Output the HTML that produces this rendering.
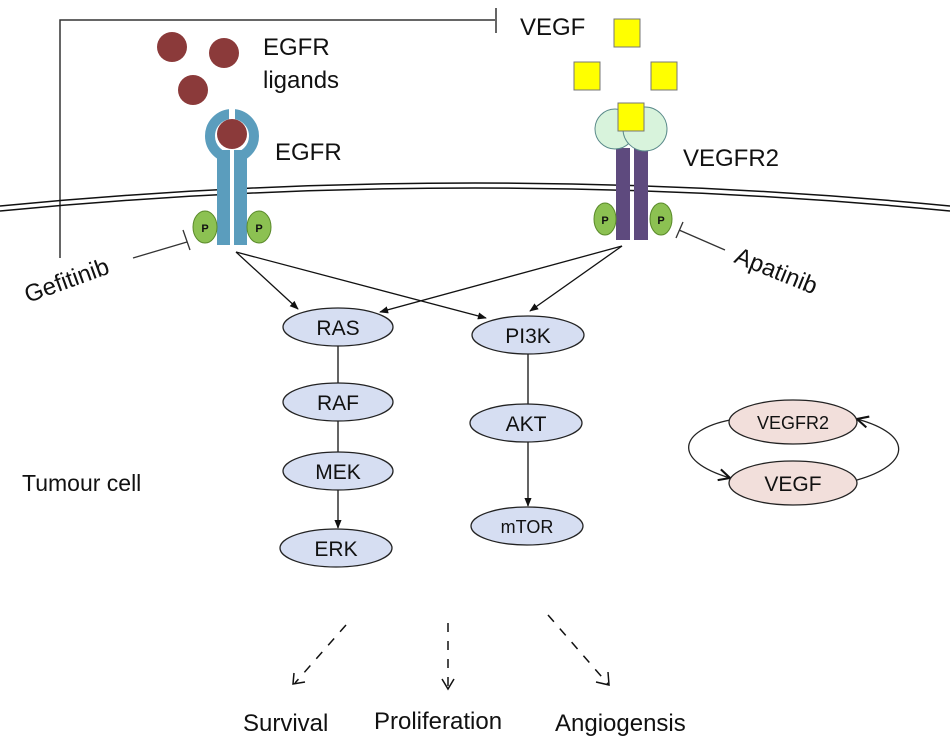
<!DOCTYPE html>
<html><head><meta charset="utf-8"><style>
html,body{margin:0;padding:0;background:#fff;}
svg{display:block;}
text{font-family:"Liberation Sans",sans-serif;fill:#111;}
</style></head><body>
<svg width="950" height="741" viewBox="0 0 950 741" xmlns="http://www.w3.org/2000/svg">
<defs>
<marker id="ah" viewBox="0 0 10 10" refX="9" refY="5" markerWidth="9" markerHeight="9" orient="auto" markerUnits="userSpaceOnUse"><path d="M0,1 L10,5 L0,9 Z" fill="#111"/></marker>
<marker id="oa" viewBox="0 0 10 10" refX="9" refY="5" markerWidth="14" markerHeight="14" orient="auto" markerUnits="userSpaceOnUse"><path d="M1,1 L9,5 L1,9" fill="none" stroke="#111" stroke-width="1.5"/></marker>
</defs>
<!-- top feedback line -->
<path d="M60,258 L60,20 L495,20" fill="none" stroke="#333" stroke-width="1.5"/>
<line x1="496" y1="8" x2="496" y2="33" stroke="#333" stroke-width="1.5"/>
<!-- membrane -->
<path d="M0,206 Q475,160 950,206" fill="none" stroke="#111" stroke-width="1.5"/>
<path d="M0,211 Q475,165 950,211" fill="none" stroke="#111" stroke-width="1.5"/>
<!-- ligands -->
<circle cx="172" cy="47" r="15" fill="#8b3a3a"/>
<circle cx="224" cy="53" r="15" fill="#8b3a3a"/>
<circle cx="193" cy="90" r="15" fill="#8b3a3a"/>
<!-- EGFR -->
<circle cx="232" cy="136" r="22" fill="none" stroke="#5b9dbd" stroke-width="10"/>
<rect x="229" y="108" width="6" height="14" fill="#fff"/>
<rect x="217" y="150" width="13" height="95" fill="#5b9dbd"/>
<rect x="234" y="150" width="13" height="95" fill="#5b9dbd"/>
<rect x="230" y="140" width="4" height="105" fill="#fff"/>
<circle cx="232" cy="134" r="15" fill="#8b3a3a"/>
<ellipse cx="205" cy="227" rx="12" ry="16" fill="#8cc152" stroke="#5a8a2a" stroke-width="1"/>
<ellipse cx="259" cy="227" rx="12" ry="16" fill="#8cc152" stroke="#5a8a2a" stroke-width="1"/>
<text x="205" y="232" font-size="11" font-weight="bold" text-anchor="middle">P</text>
<text x="259" y="232" font-size="11" font-weight="bold" text-anchor="middle">P</text>
<text x="263" y="55" font-size="24">EGFR</text>
<text x="263" y="88" font-size="24">ligands</text>
<text x="275" y="160" font-size="24">EGFR</text>
<!-- VEGF squares -->
<rect x="614" y="19" width="26" height="28" fill="#ffff00" stroke="#777" stroke-width="1"/>
<rect x="574" y="62" width="26" height="28" fill="#ffff00" stroke="#777" stroke-width="1"/>
<rect x="651" y="62" width="26" height="28" fill="#ffff00" stroke="#777" stroke-width="1"/>
<text x="520" y="35" font-size="24">VEGF</text>
<!-- VEGFR2 -->
<rect x="616" y="148" width="14" height="92" fill="#5e4a7e"/>
<rect x="634" y="148" width="14" height="92" fill="#5e4a7e"/>
<circle cx="615" cy="129" r="20" fill="#d8f3dc" stroke="#5a8a8a" stroke-width="1"/>
<circle cx="645" cy="129" r="22" fill="#d8f3dc" stroke="#5a8a8a" stroke-width="1"/>
<rect x="618" y="103" width="26" height="28" fill="#ffff00" stroke="#777" stroke-width="1"/>
<ellipse cx="605" cy="219" rx="11" ry="16" fill="#8cc152" stroke="#5a8a2a" stroke-width="1"/>
<ellipse cx="661" cy="219" rx="11" ry="16" fill="#8cc152" stroke="#5a8a2a" stroke-width="1"/>
<text x="605" y="224" font-size="11" font-weight="bold" text-anchor="middle">P</text>
<text x="661" y="224" font-size="11" font-weight="bold" text-anchor="middle">P</text>
<text x="683" y="166" font-size="24">VEGFR2</text>
<!-- inhibitors -->
<line x1="133" y1="258" x2="187" y2="242" stroke="#333" stroke-width="1.3"/>
<line x1="183" y1="230" x2="190" y2="250" stroke="#333" stroke-width="1.3"/>
<text x="0" y="0" font-size="24" transform="translate(28,303) rotate(-20)">Gefitinib</text>
<line x1="725" y1="250" x2="679" y2="230" stroke="#333" stroke-width="1.3"/>
<line x1="683" y1="222" x2="676" y2="238" stroke="#333" stroke-width="1.3"/>
<text x="0" y="0" font-size="24" transform="translate(733,262) rotate(22)">Apatinib</text>
<!-- arrows from receptors -->
<g stroke="#111" stroke-width="1.3" fill="none">
<line x1="236" y1="252" x2="298" y2="309" marker-end="url(#ah)"/>
<line x1="236" y1="252" x2="486" y2="318" marker-end="url(#ah)"/>
<line x1="622" y1="246" x2="380" y2="312" marker-end="url(#ah)"/>
<line x1="622" y1="246" x2="530" y2="311" marker-end="url(#ah)"/>
<line x1="338" y1="346" x2="338" y2="383"/>
<line x1="338" y1="421" x2="338" y2="452"/>
<line x1="338" y1="490" x2="338" y2="528" marker-end="url(#ah)"/>
<line x1="528" y1="354" x2="528" y2="404"/>
<line x1="528" y1="442" x2="528" y2="506" marker-end="url(#ah)"/>
</g>
<!-- pathway nodes -->
<g fill="#d6def2" stroke="#222" stroke-width="1.3">
<ellipse cx="338" cy="327" rx="55" ry="19"/>
<ellipse cx="528" cy="335" rx="56" ry="19"/>
<ellipse cx="338" cy="402" rx="55" ry="19"/>
<ellipse cx="338" cy="471" rx="55" ry="19"/>
<ellipse cx="336" cy="548" rx="56" ry="19"/>
<ellipse cx="526" cy="423" rx="56" ry="19"/>
<ellipse cx="527" cy="526" rx="56" ry="19"/>
</g>
<g font-size="21" text-anchor="middle">
<text x="338" y="335">RAS</text>
<text x="528" y="343">PI3K</text>
<text x="338" y="410">RAF</text>
<text x="338" y="479">MEK</text>
<text x="336" y="556">ERK</text>
<text x="526" y="431">AKT</text>
<text x="527" y="533" font-size="18">mTOR</text>
</g>
<!-- right loop -->
<g fill="none" stroke="#222" stroke-width="1.3">
<path d="M730,420 C680,430 670,460 730,478" marker-end="url(#oa)"/>
<path d="M857,480 C910,465 915,435 857,419" marker-end="url(#oa)"/>
</g>
<g fill="#f2dfdb" stroke="#222" stroke-width="1.3">
<ellipse cx="793" cy="422" rx="64" ry="22"/>
<ellipse cx="793" cy="483" rx="64" ry="22"/>
</g>
<text x="793" y="429" font-size="18" text-anchor="middle">VEGFR2</text>
<text x="793" y="491" font-size="21" text-anchor="middle">VEGF</text>
<text x="22" y="491" font-size="23">Tumour cell</text>
<!-- dashed outputs -->
<g fill="none" stroke="#111" stroke-width="1.5">
<line x1="346" y1="625" x2="295" y2="683" stroke-dasharray="9,9"/>
<path d="M294,673 L293,684 L305,682"/>
<line x1="448" y1="623" x2="448" y2="688" stroke-dasharray="9,9"/>
<path d="M442,679 L448,689 L454,679"/>
<line x1="548" y1="615" x2="608" y2="684" stroke-dasharray="9,9"/>
<path d="M596,682 L609,685 L608,672"/>
</g>
<g font-size="24">
<text x="243" y="731">Survival</text>
<text x="374" y="729">Proliferation</text>
<text x="555" y="731">Angiogensis</text>
</g>
</svg>
</body></html>
